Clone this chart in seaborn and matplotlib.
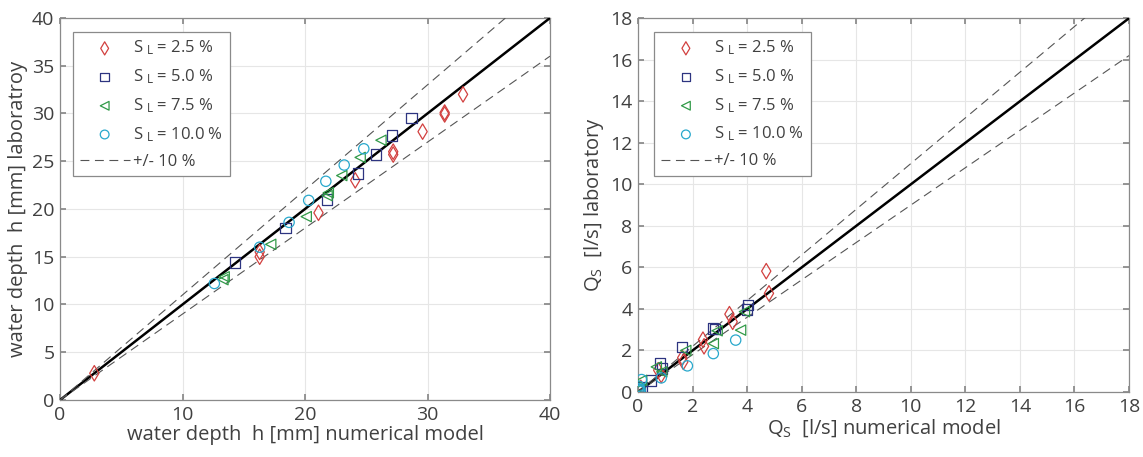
import numpy as np
import pandas as pd
import matplotlib
matplotlib.use("Agg")
import matplotlib.pyplot as plt
import seaborn as sns

# series labels / styles
slopes = ["2.5", "5.0", "7.5", "10.0"]
colors = ["#d2403f", "#2d3480", "#319a48", "#28a8cc"]
markers = ["d", "s", "<", "o"]

# water depth h [mm]: numerical model (x) vs laboratory (y)
h_num_25 = [2.8, 16.3, 16.3, 21.1, 24.1, 27.2, 27.2, 29.6, 31.4, 31.4, 32.9]
h_lab_25 = [2.8, 15.0, 15.5, 19.6, 23.0, 25.7, 26.0, 28.1, 29.9, 30.1, 32.0]
h_num_50 = [14.3, 18.4, 21.8, 24.3, 25.8, 27.1, 28.7]
h_lab_50 = [14.4, 18.0, 21.0, 23.7, 25.7, 27.7, 29.5]
h_num_75 = [13.3, 13.4, 17.2, 20.1, 21.8, 21.9, 23.0, 24.5, 26.2]
h_lab_75 = [12.6, 12.9, 16.3, 19.2, 21.4, 21.7, 23.5, 25.4, 27.2]
h_num_100 = [12.6, 16.3, 18.7, 20.3, 21.7, 23.2, 24.8]
h_lab_100 = [12.2, 16.0, 18.6, 20.9, 22.9, 24.6, 26.3]

# sediment discharge Q_S [l/s]: numerical model (x) vs laboratory (y)
q_num_25 = [4.70, 4.80, 3.35, 3.47, 2.38, 2.42, 1.62, 1.66, 0.85, 0.74, 0.10]
q_lab_25 = [5.82, 4.75, 3.75, 3.38, 2.52, 2.20, 1.65, 1.45, 0.82, 1.05, 0.20]
q_num_50 = [4.03, 4.00, 2.76, 2.82, 1.61, 0.81, 0.87, 0.47, 0.13, 0.07]
q_lab_50 = [4.19, 3.98, 3.06, 3.02, 2.17, 1.38, 1.13, 0.56, 0.24, 0.16]
q_num_75 = [3.76, 2.76, 2.90, 3.90, 1.75, 0.67, 0.87, 0.13, 0.05]
q_lab_75 = [2.98, 2.33, 2.95, 3.87, 2.00, 1.21, 0.97, 0.56, 0.15]
q_num_100 = [3.58, 2.76, 1.81, 0.85, 0.13, 0.02, 0.05, 0.08, 0.03]
q_lab_100 = [2.50, 1.85, 1.26, 0.68, 0.60, 0.16, 0.05, 0.10, 0.28]

h_ticks_x = [0, 10, 20, 30, 40]
h_ticks_y = [0, 5, 10, 15, 20, 25, 30, 35, 40]
q_ticks = [0, 2, 4, 6, 8, 10, 12, 14, 16, 18]

sns.set_theme(style="ticks")
plt.rcParams["font.family"] = ["Open Sans", "DejaVu Sans"]
plt.rcParams["mathtext.default"] = "regular"
txt = "#404040"


def make_df(xs, ys):
    frames = []
    for s, x, y in zip(slopes, xs, ys):
        frames.append(pd.DataFrame({"num": x, "lab": y, "slope": s}))
    return pd.concat(frames, ignore_index=True)


def draw_panel(ax, df, lim, xticks, yticks, xlabel, ylabel, legend_x):
    ax.set_axisbelow(True)
    ax.grid(True, color="#e6e6e6", linewidth=0.8)
    line = np.array([0, lim])
    ax.plot(line, line, color="black", linewidth=1.8, zorder=3)
    ax.plot(line, 1.1 * line, color="#555555", linewidth=0.8,
            dashes=(8, 5), zorder=3, label="+/- 10 %")
    ax.plot(line, 0.9 * line, color="#555555", linewidth=0.8,
            dashes=(8, 5), zorder=3)
    for s, c, m in zip(slopes, colors, markers):
        sub = df[df["slope"] == s]
        sns.scatterplot(data=sub, x="num", y="lab", ax=ax, marker=m,
                        s=62 if m == "d" else 55, color=c,
                        facecolors="none", edgecolor=c, linewidth=0.9,
                        label="S$_{\\ L}$ = %s %%" % s, zorder=4)
    ax.set_xlim(0, lim)
    ax.set_ylim(0, lim)
    ax.set_xticks(xticks)
    ax.set_yticks(yticks)
    ax.tick_params(direction="in", length=4, colors="#888888",
                   labelcolor=txt, labelsize=14, top=True, right=True, pad=4)
    for sp in ax.spines.values():
        sp.set_visible(True)
        sp.set_color("#8a8a8a")
        sp.set_linewidth(0.9)
    ax.set_xlabel(xlabel, fontsize=14.5, color=txt, labelpad=1)
    ax.set_ylabel(ylabel, fontsize=14.5, color=txt, labelpad=3)

    handles, labels = ax.get_legend_handles_labels()
    order = [1, 2, 3, 4, 0]
    leg = ax.legend([handles[i] for i in order], [labels[i] for i in order],
                    loc="upper left", bbox_to_anchor=(legend_x, 0.963),
                    borderaxespad=0, fancybox=False, framealpha=1,
                    edgecolor="#8a8a8a", fontsize=12, handlelength=3.0,
                    handletextpad=0.2, labelspacing=0.6, borderpad=0.4,
                    markerscale=0.85)
    leg.get_frame().set_linewidth(0.9)
    for t in leg.get_texts():
        t.set_color(txt)


fig = plt.figure(figsize=(11.43, 4.57), dpi=100)
ax1 = fig.add_axes([0.0525, 0.1247, 0.4287, 0.836])
ax2 = fig.add_axes([0.5582, 0.1422, 0.4296, 0.818])

df_h = make_df([h_num_25, h_num_50, h_num_75, h_num_100],
               [h_lab_25, h_lab_50, h_lab_75, h_lab_100])
df_q = make_df([q_num_25, q_num_50, q_num_75, q_num_100],
               [q_lab_25, q_lab_50, q_lab_75, q_lab_100])

draw_panel(ax1, df_h, 40, h_ticks_x, h_ticks_y,
           "water depth  h [mm] numerical model",
           "water depth  h [mm] laboratroy", 0.0265)
draw_panel(ax2, df_q, 18, q_ticks, q_ticks,
           "Q$_S$  [l/s] numerical model",
           "Q$_S$  [l/s] laboratory", 0.033)

fig.savefig("out.png", dpi=100)
